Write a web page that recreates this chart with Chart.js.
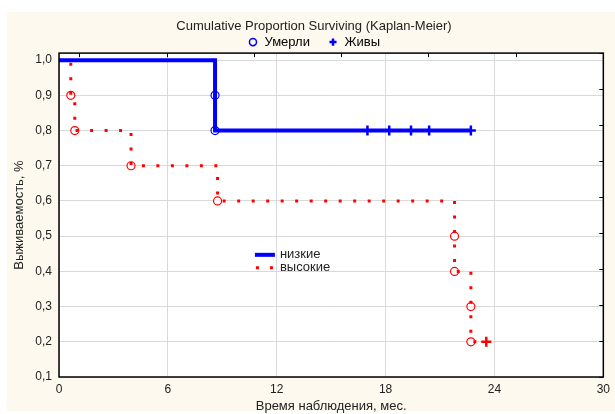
<!DOCTYPE html>
<html>
<head>
<meta charset="utf-8">
<script src="https://cdn.jsdelivr.net/npm/chart.js@4/dist/chart.umd.min.js"></script>
<style>
  html, body { margin: 0; padding: 0; background: #fff; }
  #wrap { width: 615px; height: 414px; }
</style>
</head>
<body>
<div id="wrap"><canvas id="km" width="615" height="414"></canvas></div>
<script>
/* Данные Kaplan-Meier */
const xTicks = [0, 6, 12, 18, 24, 30];
const yTicks = [0.1, 0.2, 0.3, 0.4, 0.5, 0.6, 0.7, 0.8, 0.9, 1.0];

// низкие: ступенчатая кривая
const lowTimes = [0, 8.6, 22.7];
const lowSurv = [1.0, 0.8, 0.8];
const lowDeadTimes = [8.6, 8.6];
const lowDeadSurv = [0.9, 0.8];
const lowAliveTimes = [17.0, 18.2, 19.4, 20.4, 22.7];
const lowAliveSurv = [0.8, 0.8, 0.8, 0.8, 0.8];

// высокие
const highTimes = [0, 0.65, 0.87, 3.97, 8.74, 21.8, 22.7, 23.55];
const highSurv = [1.0, 0.9, 0.8, 0.7, 0.6, 0.4, 0.2, 0.2];
const highDeadTimes = [0.65, 0.87, 3.97, 8.74, 21.8, 21.8, 22.7, 22.7];
const highDeadSurv = [0.9, 0.8, 0.7, 0.6, 0.5, 0.4, 0.3, 0.2];
const highAliveTimes = [23.55];
const highAliveSurv = [0.2];

const blue = "#0000ff";
const red = "#ff0000";
const font = "'Liberation Sans', Arial, sans-serif";

const pts = (xs, ys) => xs.map((x, i) => ({ x: x, y: ys[i] }));

/* fondo crema + leyenda interna */
const background = {
  id: "background",
  beforeDraw(chart) {
    const { ctx, chartArea } = chart;
    ctx.save();
    ctx.fillStyle = "#ffffff";
    ctx.fillRect(0, 0, chart.width, chart.height);
    ctx.fillStyle = "#fdf9ee";
    ctx.fillRect(7, 12, chart.width - 7, 399);
    ctx.fillStyle = "#ffffff";
    ctx.fillRect(chartArea.left, chartArea.top, chartArea.width, chartArea.height);
    ctx.restore();
  },
  afterDraw(chart) {
    const { ctx, chartArea } = chart;
    const x = chart.scales.x.getPixelForValue(11.9);
    const y = chart.scales.y.getPixelForValue(0.447);
    ctx.save();
    ctx.strokeStyle = "#000";
    ctx.lineWidth = 1.5;
    ctx.strokeRect(chartArea.left, chartArea.top, chartArea.width, chartArea.height);
    ctx.lineWidth = 4;
    ctx.strokeStyle = blue;
    ctx.beginPath();
    ctx.moveTo(x - 20, y);
    ctx.lineTo(x, y);
    ctx.stroke();
    ctx.strokeStyle = red;
    ctx.lineWidth = 3;
    ctx.setLineDash([3, 11]);
    ctx.beginPath();
    ctx.moveTo(x - 19, y + 13);
    ctx.lineTo(x - 1, y + 13);
    ctx.stroke();
    ctx.setLineDash([]);
    ctx.fillStyle = "#222";
    ctx.font = "13px " + font;
    ctx.textBaseline = "middle";
    ctx.fillText("низкие", x + 5, y);
    ctx.fillText("высокие", x + 5, y + 13);
    ctx.restore();
  },
};

const ctx = document.getElementById("km").getContext("2d");

new Chart(ctx, {
  type: "scatter",
  data: {
    datasets: [
      {
        label: "низкие",
        data: pts(lowTimes, lowSurv),
        showLine: true,
        stepped: true,
        borderColor: blue,
        borderWidth: 4,
        pointRadius: 0,
      },
      {
        label: "высокие",
        data: pts(highTimes, highSurv),
        showLine: true,
        stepped: true,
        borderColor: red,
        borderWidth: 3,
        borderDash: [3, 11.5],
        pointRadius: 0,
      },
      {
        label: "Умерли низкие",
        data: pts(lowDeadTimes, lowDeadSurv),
        pointStyle: "circle",
        pointRadius: 4,
        borderColor: blue,
        backgroundColor: "rgba(255,255,255,0.6)",
        borderWidth: 1.2,
      },
      {
        label: "Живы низкие",
        data: pts(lowAliveTimes, lowAliveSurv),
        pointStyle: "cross",
        pointRadius: 5,
        borderColor: blue,
        borderWidth: 2.5,
      },
      {
        label: "Умерли высокие",
        data: pts(highDeadTimes, highDeadSurv),
        pointStyle: "circle",
        pointRadius: 4,
        borderColor: red,
        backgroundColor: "rgba(255,255,255,0.6)",
        borderWidth: 1.2,
      },
      {
        label: "Живы высокие",
        data: pts(highAliveTimes, highAliveSurv),
        pointStyle: "cross",
        pointRadius: 5,
        borderColor: red,
        borderWidth: 2.5,
      },
    ],
  },
  options: {
    responsive: false,
    animation: false,
    layout: { padding: { left: 13, right: 0, top: 19, bottom: 0 } },
    plugins: {
      title: {
        display: true,
        text: "Cumulative Proportion Surviving (Kaplan-Meier)",
        color: "#222",
        font: { family: font, size: 13, weight: "normal" },
        padding: { top: 0, bottom: 1 },
      },
      legend: {
        display: true,
        position: "top",
        maxHeight: 17.5,
        labels: {
          usePointStyle: true,
          boxWidth: 10,
          boxHeight: 5,
          padding: 0,
          color: "#222",
          font: { family: font, size: 13 },
          generateLabels: () => [
            { text: "Умерли     ", pointStyle: "circle", strokeStyle: blue, fillStyle: "#fdf9ee", lineWidth: 1.5, hidden: false },
            { text: "Живы", pointStyle: "cross", strokeStyle: blue, fillStyle: blue, lineWidth: 2.5, hidden: false },
          ],
        },
        onClick: null,
      },
      tooltip: { enabled: false },
    },
    scales: {
      x: {
        type: "linear",
        position: "bottom",
        min: 0,
        max: 30,
        afterBuildTicks: (s) => { s.ticks = xTicks.map((v) => ({ value: v })); },
        afterFit: (s) => { s.height = 37; },
        grid: { color: "#d9d9d9", lineWidth: 1, drawTicks: false },
        border: { display: false },
        ticks: { color: "#222", font: { family: font, size: 12 }, padding: 5, maxRotation: 0 },
        title: {
          display: true,
          text: "Время наблюдения, мес.",
          color: "#222",
          font: { family: font, size: 13 },
          padding: { top: 0, bottom: 0 },
        },
      },
      x2: {
        type: "linear",
        position: "top",
        min: -0.24,
        max: 6,
        afterBuildTicks: (s) => { s.ticks = [0, 1, 2, 3, 4, 5, 6].map((v) => ({ value: v })); },
        afterFit: (s) => { s.height = 0; },
        grid: { drawOnChartArea: false, tickLength: -4, color: "#000" },
        border: { display: false },
        ticks: { display: false },
      },
      y: {
        type: "linear",
        position: "left",
        min: 0.1,
        max: 1.02,
        afterBuildTicks: (s) => { s.ticks = yTicks.map((v) => ({ value: v })); },
        afterFit: (s) => { s.width = 46; },
        grid: { color: "#d9d9d9", lineWidth: 1, drawTicks: false },
        border: { display: false },
        ticks: {
          color: "#222",
          font: { family: font, size: 12 },
          padding: 7,
          callback: (v) => v.toFixed(1).replace(".", ","),
        },
        title: {
          display: true,
          text: "Выживаемость, %",
          color: "#222",
          font: { family: font, size: 13 },
          padding: { top: -1, bottom: 0 },
        },
      },
      y2: {
        type: "linear",
        position: "right",
        min: 0,
        max: 9,
        afterBuildTicks: (s) => { s.ticks = [0, 1, 2, 3, 4, 5, 6, 7, 8, 9].map((v) => ({ value: v })); },
        afterFit: (s) => { s.width = 7; },
        grid: { drawOnChartArea: false, tickLength: -4, color: "#000" },
        border: { display: false },
        ticks: { display: false },
      },
    },
  },
  plugins: [background],
});
</script>
</body>
</html>
